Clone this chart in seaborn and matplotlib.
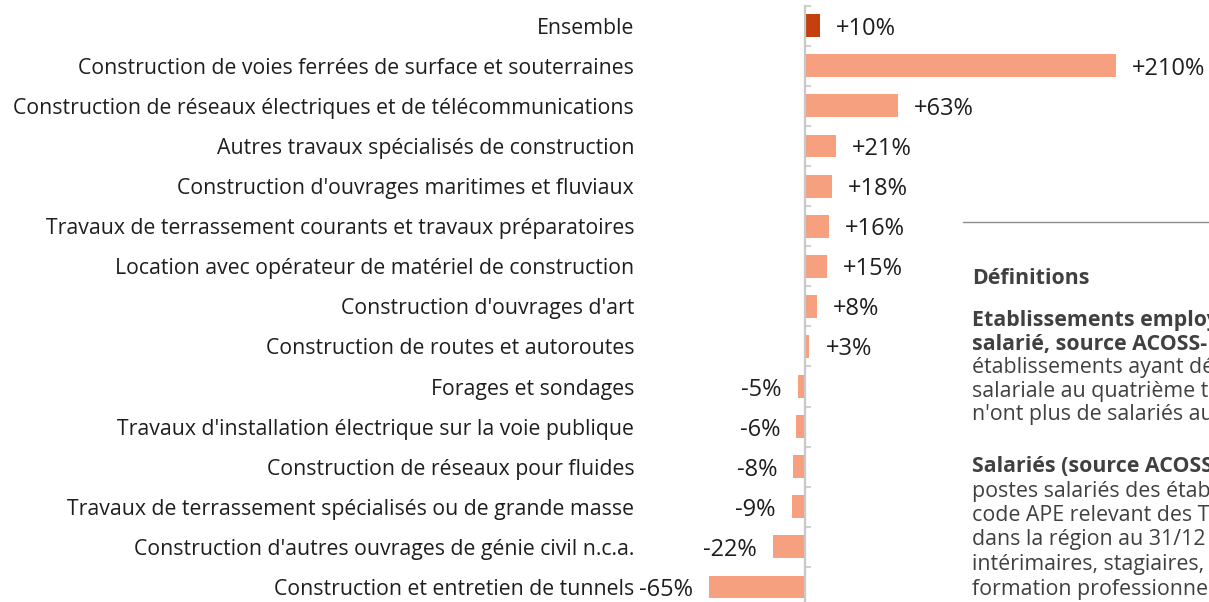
import matplotlib
matplotlib.use("Agg")
import matplotlib.pyplot as plt
from matplotlib.lines import Line2D
import seaborn as sns
import pandas as pd

# Sectors and their change in number of salaried workers (%)
categories = [
    "Ensemble",
    "Construction de voies ferrées de surface et souterraines",
    "Construction de réseaux électriques et de télécommunications",
    "Autres travaux spécialisés de construction",
    "Construction d'ouvrages maritimes et fluviaux",
    "Travaux de terrassement courants et travaux préparatoires",
    "Location avec opérateur de matériel de construction",
    "Construction d'ouvrages d'art",
    "Construction de routes et autoroutes",
    "Forages et sondages",
    "Travaux d'installation électrique sur la voie publique",
    "Construction de réseaux pour fluides",
    "Travaux de terrassement spécialisés ou de grande masse",
    "Construction d'autres ouvrages de génie civil n.c.a.",
    "Construction et entretien de tunnels",
]
values = [10, 210, 63, 21, 18, 16, 15, 8, 3, -5, -6, -8, -9, -22, -65]

total_color = "#c4410f"
sector_color = "#f6a07f"
colors = [total_color] + [sector_color] * (len(categories) - 1)

# Side panel: (text, weight, vertical position in pixels from the top)
definitions = [
    ("Définitions", "bold", 276),
    ("Etablissements employeurs (au moins un", "bold", 318),
    ("salarié, source ACOSS-URSSAF) :", "bold", 341.5),
    ("établissements ayant déclaré une masse", "normal", 365),
    ("salariale au quatrième trimestre. Ceux qui", "normal", 388.5),
    ("n'ont plus de salariés au 31/12 sont exclus.", "normal", 412),
    ("Salariés (source ACOSS-URSSAF) : nombre de", "bold", 464),
    ("postes salariés des établissements dont le", "normal", 488.5),
    ("code APE relevant des TP, implantés", "normal", 513),
    ("dans la région au 31/12 (hors", "normal", 537.5),
    ("intérimaires, stagiaires, contrats de", "normal", 562),
    ("formation professionnelle).", "normal", 586.5),
]

plt.rcParams["font.family"] = ["Open Sans", "DejaVu Sans"]

W, H = 1209, 602
fig = plt.figure(figsize=(W / 100, H / 100), dpi=100)
fig.patch.set_facecolor("white")

top_px, bottom_px = 5.7, 607.0
ax = fig.add_axes([700 / W, 1 - bottom_px / H, 509 / W, (bottom_px - top_px) / H])

df = pd.DataFrame({"secteur": categories, "variation": values})
sns.barplot(
    data=df, x="variation", y="secteur", hue="secteur",
    palette=colors, orient="h", width=0.57, saturation=1,
    legend=False, ax=ax,
)

ax.set_xlim(-71, 273)
ax.set_ylim(len(categories) - 0.5, -0.5)
ax.set_xlabel("")
ax.set_ylabel("")
ax.set_facecolor("none")

for side in ["top", "right", "bottom"]:
    ax.spines[side].set_visible(False)
ax.spines["left"].set_position(("data", 0))
ax.spines["left"].set_color("#c8c8c8")
ax.spines["left"].set_linewidth(1.6)
ax.xaxis.set_visible(False)

ax.set_yticks(range(len(categories)))
ax.set_yticklabels(categories)
ax.set_yticks([i - 0.5 for i in range(len(categories) + 1)], minor=True)
ax.tick_params(axis="y", which="major", length=0, pad=123,
               labelsize=15.35, labelcolor="#1e1e1e")
ax.tick_params(axis="y", which="minor", direction="in", length=4.5,
               width=1.2, color="#c8c8c8")

for container, v in zip(ax.containers, values):
    texts = ax.bar_label(container, labels=[f"{v:+d}%"], padding=11.5,
                         fontsize=17, color="#1e1e1e")
    for t in texts:
        t.set_verticalalignment("center_baseline")

fig.add_artist(Line2D([963 / W, 1.0], [1 - 222 / H] * 2,
                      color="#8c8c8c", lw=1.0))
for text, weight, ypx in definitions:
    fig.text(972 / W, 1 - ypx / H, text, fontsize=15.4, fontweight=weight,
             color="#404040", va="center_baseline", ha="left")

fig.savefig("out.png", dpi=100)
